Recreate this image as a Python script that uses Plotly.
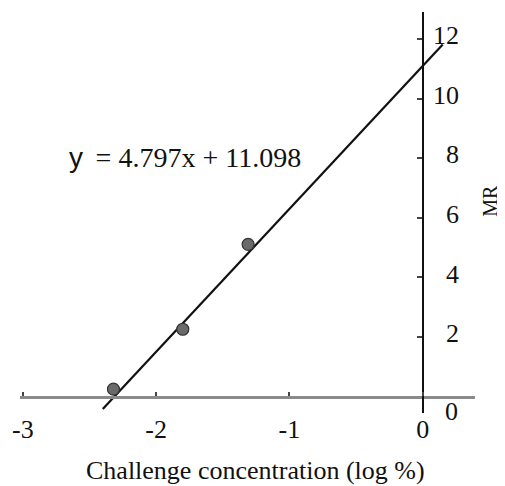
import plotly.graph_objects as go

# Data
conc_log = [-2.32, -1.80, -1.31]
mr_values = [0.25, 2.26, 5.11]
slope = 4.797
intercept = 11.098
fit_x = [-2.40, 0.15]
fit_y = [slope * v + intercept for v in fit_x]

x_ticks = [-3, -2, -1, 0]
y_ticks = [2, 4, 6, 8, 10, 12]
x_range = [-3.021, 0.392]
y_range = [-0.55, 12.906]

serif = "Liberation Serif, Times New Roman, serif"

fig = go.Figure()
fig.add_trace(go.Scatter(x=fit_x, y=fit_y, mode="lines",
                         line=dict(color="#111111", width=2.2), showlegend=False))
fig.add_trace(go.Scatter(x=conc_log, y=mr_values, mode="markers",
                         marker=dict(size=12, color="#6a6a6a",
                                     line=dict(color="#333333", width=1.2)),
                         showlegend=False))

xpos = (0 - y_range[0]) / (y_range[1] - y_range[0])
ypos = (0 - x_range[0]) / (x_range[1] - x_range[0])

fig.update_layout(
    width=505, height=486,
    margin=dict(l=12, r=38, t=4, b=81, autoexpand=False),
    paper_bgcolor="white", plot_bgcolor="white",
    font=dict(family=serif, size=26, color="#111111"),
    xaxis=dict(range=x_range, anchor="free", position=xpos, automargin=False,
               showgrid=False, zeroline=False,
               showline=True, linecolor="#8a8a8a", linewidth=2.5,
               ticks="inside", ticklen=4, tickwidth=1.5, tickcolor="#444444",
               tickvals=x_ticks, ticktext=[str(v) for v in x_ticks],
               ticklabelstandoff=8,
               tickfont=dict(family=serif, size=26)),
    yaxis=dict(range=y_range, anchor="free", position=ypos, side="right",
               automargin=False,
               showgrid=False, zeroline=False,
               showline=True, linecolor="#111111", linewidth=2,
               ticks="inside", ticklen=5, tickwidth=1.5, tickcolor="#444444",
               tickvals=y_ticks,
               ticktext=[f"{v:>2}".replace(" ", "\u2007") for v in y_ticks],
               ticklabelshift=-4, ticklabelstandoff=4,
               tickfont=dict(family=serif, size=26)),
    annotations=[
        dict(text="<span style='font-family:Liberation Sans'>y</span>\u2009 = 4.797x + 11.098",
             x=-1.785, y=8.02, xref="x", yref="y", showarrow=False,
             xanchor="center", yanchor="middle",
             font=dict(family=serif, size=28)),
        dict(text="0", x=0, y=0, xref="x", yref="y", showarrow=False,
             xanchor="center", yanchor="middle", xshift=29, yshift=-15,
             font=dict(family=serif, size=26)),
        dict(text="MR", x=1, y=0.529, xref="paper", yref="paper", showarrow=False,
             xanchor="center", yanchor="middle", xshift=15, textangle=-90,
             font=dict(family=serif, size=20)),
        dict(text="Challenge concentration (log %)", x=0.5165, y=0,
             xref="paper", yref="paper", showarrow=False,
             xanchor="center", yanchor="middle", yshift=-57,
             font=dict(family=serif, size=26)),
    ],
)

fig.write_html("out.html")
